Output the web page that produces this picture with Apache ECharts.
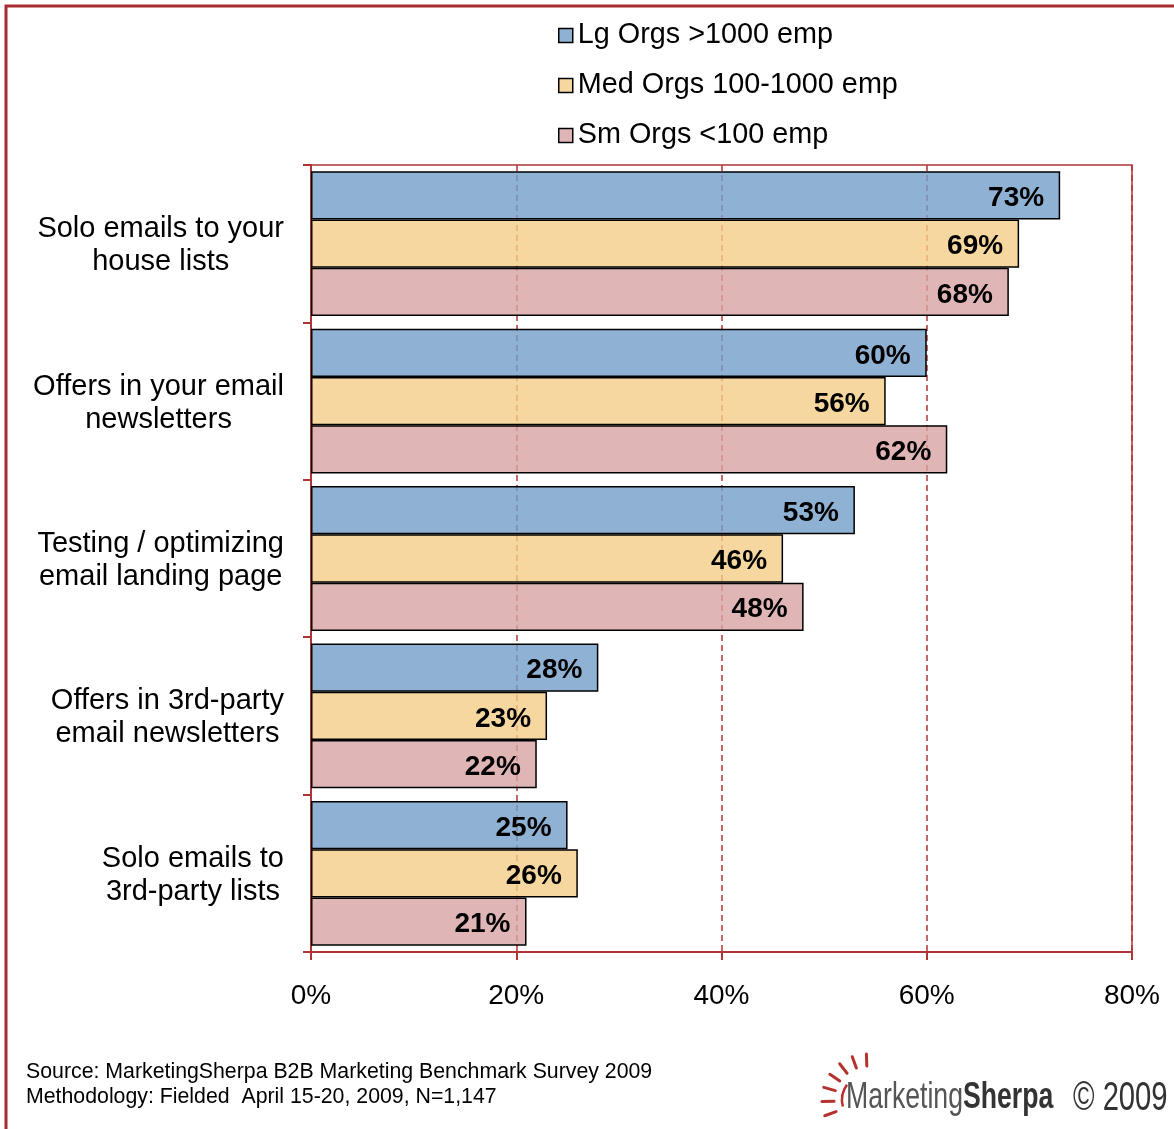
<!DOCTYPE html>
<html>
<head>
<meta charset="utf-8">
<script src="https://cdn.jsdelivr.net/npm/echarts@6/dist/echarts.min.js"></script>
<style>
  html, body { margin: 0; padding: 0; background: #fff; }
  #chart { width: 1174px; height: 1129px; }
</style>
</head>
<body>
<div id="chart"></div>
<script>
// Email tactics rated effective, by organisation size (percent of respondents)
const categories = [
  'Solo emails to your\nhouse lists',
  'Offers in your email\nnewsletters',
  'Testing / optimizing\nemail landing page',
  'Offers in 3rd-party\nemail newsletters',
  'Solo emails to\n3rd-party lists'
];
const seriesNames = ['Lg Orgs >1000 emp', 'Med Orgs 100-1000 emp', 'Sm Orgs <100 emp'];
const largeOrgs = [73, 60, 53, 28, 25];
const mediumOrgs = [69, 56, 46, 23, 26];
const smallOrgs = [68, 62, 48, 22, 21];
const xTicks = [0, 20, 40, 60, 80];

const FONT = '"Liberation Sans", Arial, sans-serif';
const RED = '#b03434';
const fills = ['rgba(115,159,201,0.8)', 'rgba(245,205,136,0.8)', 'rgba(216,162,164,0.8)'];
const values = [largeOrgs, mediumOrgs, smallOrgs];

const chart = echarts.init(document.getElementById('chart'), null, { renderer: 'canvas' });

// Sunburst rays of the logo
const rays = [];
const cx = 868, cy = 1100;
[92, 110, 128, 146, 164, 182, 200].forEach(function (deg) {
  const a = deg * Math.PI / 180;
  rays.push({
    type: 'line',
    shape: {
      x1: cx + Math.cos(a) * 34, y1: cy - Math.sin(a) * 34,
      x2: cx + Math.cos(a) * 46, y2: cy - Math.sin(a) * 46
    },
    style: { stroke: '#b5322e', lineWidth: 3, lineCap: 'round' }
  });
});

chart.setOption({
  backgroundColor: '#fff',
  animation: false,
  legend: {
    orient: 'vertical',
    left: 553,
    top: 14,
    itemWidth: 14,
    itemHeight: 14,
    itemGap: 17,
    icon: 'rect',
    itemStyle: { borderColor: '#000', borderWidth: 1.5 },
    textStyle: { fontFamily: FONT, fontSize: 28.8, color: '#000', lineHeight: 33 },
    data: seriesNames
  },
  grid: {
    left: 311, right: 42, top: 165, bottom: 177,
    show: true, borderColor: RED, borderWidth: 1.5,
    containLabel: false
  },
  xAxis: {
    type: 'value',
    min: xTicks[0],
    max: xTicks[xTicks.length - 1],
    interval: xTicks[1] - xTicks[0],
    axisLine: { show: true, lineStyle: { color: RED, width: 2 } },
    axisTick: { show: true, length: 8, lineStyle: { color: RED, width: 2 } },
    axisLabel: {
      fontFamily: FONT, fontSize: 28, color: '#000', margin: 30,
      formatter: function (v) { return v + '%'; }
    },
    splitLine: { show: true, lineStyle: { color: RED, type: [6, 4], width: 1.5 } }
  },
  yAxis: {
    type: 'category',
    inverse: true,
    data: categories,
    axisLine: { show: true, lineStyle: { color: RED, width: 2 } },
    axisTick: { show: true, length: 8, inside: false, lineStyle: { color: RED, width: 2 } },
    axisLabel: {
      margin: 27,
      align: 'right',
      formatter: function (v) {
        return v.split('\n').map(function (s) { return '{c|' + s + '}'; }).join('\n');
      },
      rich: {
        c: { fontFamily: FONT, fontSize: 29, lineHeight: 33, color: '#000', align: 'center', padding: [4, 0, 0, 0] }
      }
    },
    splitLine: { show: false }
  },
  series: seriesNames.map(function (name, i) {
    return {
      name: name,
      type: 'bar',
      data: values[i],
      barGap: '0%',
      barCategoryGap: '8%',
      itemStyle: { color: fills[i], borderColor: '#000', borderWidth: 1.5 },
      label: {
        show: true,
        position: 'insideRight',
        distance: 16,
        offset: [0, 3],
        fontFamily: FONT,
        fontSize: 28,
        fontWeight: 'bold',
        color: '#000',
        formatter: '{c}%'
      }
    };
  }),
  graphic: [
    {
      type: 'rect',
      shape: { x: 6, y: 6, width: 1300, height: 1300 },
      style: { fill: null, stroke: '#a62e2e', lineWidth: 3 },
      silent: true
    },
    {
      type: 'text',
      left: 26, top: 1060,
      style: {
        text: 'Source: MarketingSherpa B2B Marketing Benchmark Survey 2009\nMethodology: Fielded  April 15-20, 2009, N=1,147',
        fontFamily: FONT, fontSize: 21.3, lineHeight: 25, fill: '#000'
      }
    },
    {
      type: 'group',
      children: rays.concat([
        {
          type: 'arc',
          shape: { cx: cx, cy: cy, r: 26, startAngle: Math.PI * 0.92, endAngle: Math.PI * 1.2 },
          style: { stroke: '#b5322e', lineWidth: 2.5, fill: null }
        },
        {
          type: 'text',
          x: 846, y: 1098,
          scaleX: 0.72,
          style: {
            text: '{l|Marketing}{b|Sherpa}',
            verticalAlign: 'middle',
            rich: {
              l: { fontFamily: FONT, fontSize: 37, fill: '#555' },
              b: { fontFamily: FONT, fontSize: 37, fontWeight: 'bold', fill: '#333' }
            }
          }
        },
        {
          type: 'text',
          x: 1073, y: 1099,
          scaleX: 0.73,
          style: {
            text: '\u00A9 2009',
            verticalAlign: 'middle',
            fontFamily: FONT, fontSize: 40, fill: '#333'
          }
        }
      ])
    }
  ]
});
</script>
</body>
</html>
